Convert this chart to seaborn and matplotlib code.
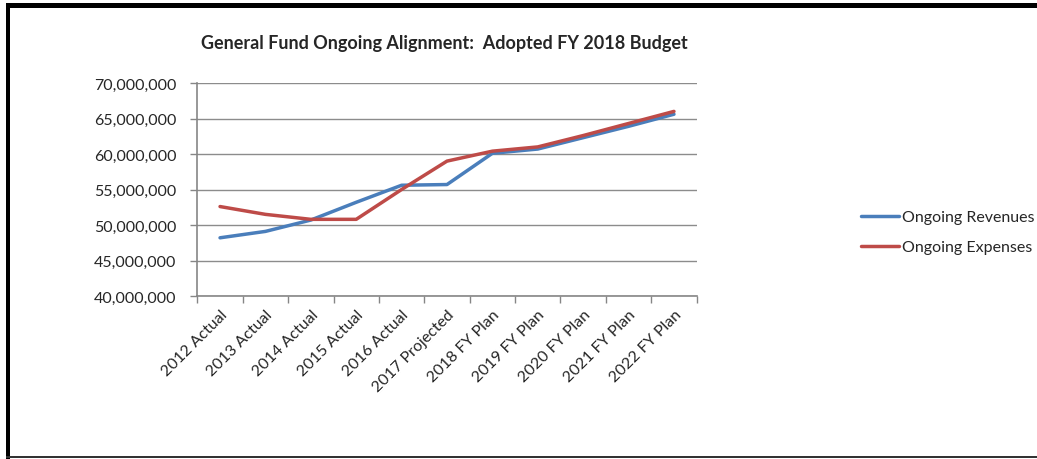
import pandas as pd
import matplotlib
matplotlib.use('Agg')
import matplotlib.pyplot as plt
import matplotlib.ticker as mticker
import seaborn as sns

# Dados do gráfico
categories = ['2012 Actual', '2013 Actual', '2014 Actual', '2015 Actual', '2016 Actual',
              '2017 Projected', '2018 FY Plan', '2019 FY Plan', '2020 FY Plan',
              '2021 FY Plan', '2022 FY Plan']
revenues = [48.2e6, 49.1e6, 50.7e6, 53.2e6, 55.6e6, 55.7e6, 60.1e6, 60.7e6, 62.3e6, 63.9e6, 65.6e6]
expenses = [52.6e6, 51.5e6, 50.8e6, 50.8e6, 55.0e6, 59.0e6, 60.4e6, 61.0e6, 62.6e6, 64.3e6, 66.0e6]
series_names = ['Ongoing Revenues', 'Ongoing Expenses']

df = pd.concat([
    pd.DataFrame({'Category': categories, 'Value': revenues, 'Series': series_names[0]}),
    pd.DataFrame({'Category': categories, 'Value': expenses, 'Series': series_names[1]}),
])

sns.set_style('white')
plt.rcParams['font.family'] = ['Lato', 'DejaVu Sans']

fig = plt.figure(figsize=(10.37, 4.6), dpi=100)
ax = fig.add_axes([0.1903, 0.3543, 0.4815, 0.4631])

sns.lineplot(data=df, x='Category', y='Value', hue='Series',
             palette=['#4A7EBB', '#BE4B48'], linewidth=2.5, sort=False, ax=ax)

ax.set_xlim(-0.5, len(categories) - 0.5)
ax.set_ylim(40e6, 70e6)
ax.yaxis.set_major_locator(mticker.MultipleLocator(5e6))
ax.yaxis.set_major_formatter(mticker.FuncFormatter(lambda v, p: f'{v:,.0f}'))
ax.grid(axis='y', color='#8c8c8c', linewidth=1)
ax.set_axisbelow(True)

# rótulos no centro, marcas entre as categorias
ax.set_xticks(range(len(categories)))
ax.set_xticklabels(categories, rotation=45, ha='right', rotation_mode='anchor', fontsize=11.5)
ax.set_xticks([i - 0.5 for i in range(len(categories) + 1)], minor=True)
ax.tick_params(axis='x', which='major', length=0, pad=8)
ax.tick_params(axis='x', which='minor', length=5, color='#868686', width=1, direction='out', bottom=True)
ax.tick_params(axis='y', length=5, color='#868686', width=1, direction='out', left=True, labelsize=11.5, pad=10)

for s in ['top', 'right']:
    ax.spines[s].set_visible(False)
for s in ['left', 'bottom']:
    ax.spines[s].set_color('#868686')
    ax.spines[s].set_linewidth(1.2)

ax.set_xlabel('')
ax.set_ylabel('')

fig.text(0.429, 0.906, 'General Fund Ongoing Alignment:  Adopted FY 2018 Budget',
         ha='center', va='center', fontsize=13, fontweight='bold')

leg = ax.legend(loc='center left', bbox_to_anchor=(1.3, 0.30), frameon=False,
                fontsize=11.5, handlelength=2.4, handletextpad=0.2, labelspacing=1.0)

# moldura
fig.add_artist(plt.Rectangle((6 / 1037, 1 - 9 / 460), 1, 5 / 460, transform=fig.transFigure,
                             color='black', lw=0))
fig.add_artist(plt.Rectangle((6 / 1037, 0), 4 / 1037, 1 - 4 / 460, transform=fig.transFigure,
                             color='black', lw=0))
fig.add_artist(plt.Rectangle((6 / 1037, 1 / 460), 1, 2 / 460, transform=fig.transFigure,
                             color='#333333', lw=0))

fig.savefig('out.png', dpi=100)
